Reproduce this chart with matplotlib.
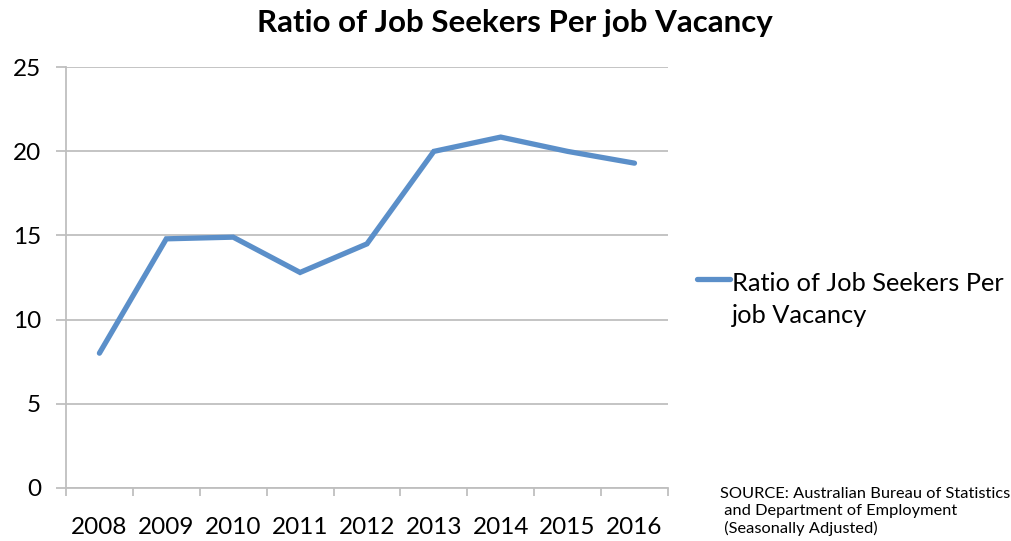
import matplotlib.pyplot as plt
from matplotlib.lines import Line2D

plt.rcParams['font.family'] = ['Lato', 'DejaVu Sans']

years = ['2008', '2009', '2010', '2011', '2012', '2013', '2014', '2015', '2016']
ratio = [8.0, 14.8, 14.9, 12.8, 14.5, 20.0, 20.85, 20.0, 19.3]
series_name = 'Ratio of Job Seekers Per\njob Vacancy'
source = 'SOURCE: Australian Bureau of Statistics\n and Department of Employment\n (Seasonally Adjusted)'
line_color = '#5B8FC9'

fig = plt.figure(figsize=(10.12, 5.41), dpi=100)
ax = fig.add_axes([0.0652, 0.0985, 0.5948, 0.7771])

x = list(range(len(years)))
ax.plot(x, ratio, color=line_color, linewidth=3.8, solid_capstyle='round',
        solid_joinstyle='miter')

ax.set_xlim(-0.5, len(years) - 0.5)
ax.set_ylim(0, 25)
ax.set_yticks([0, 5, 10, 15, 20, 25])
ax.set_xticks(x)
ax.set_xticklabels(years)
ax.set_xticks([i - 0.5 for i in range(len(years) + 1)], minor=True)

# gridlines
ax.grid(axis='y', color='#BFBFBF', linewidth=1.3)
ax.set_axisbelow(True)

for s in ['top', 'right']:
    ax.spines[s].set_visible(False)
for s in ['left', 'bottom']:
    ax.spines[s].set_color('#BFBFBF')
    ax.spines[s].set_linewidth(1.3)

ax.tick_params(axis='y', length=7, width=1.3, color='#BFBFBF', pad=11,
               labelsize=17.5, labelcolor='black')
ax.tick_params(axis='x', which='major', length=0, pad=21, labelsize=17.5)
ax.tick_params(axis='x', which='minor', length=6, width=1.3, color='#BFBFBF')

fig.text(0.509, 0.958, 'Ratio of Job Seekers Per job Vacancy', ha='center',
         va='center', fontsize=22.5, fontweight='bold')

# legend on the right (handle lines up with the first text line, like Excel)
fig.add_artist(Line2D([0.689, 0.721], [0.484, 0.484], transform=fig.transFigure,
                      color=line_color, linewidth=3.8, solid_capstyle='round'))
fig.text(0.723, 0.498, series_name, ha='left', va='top', fontsize=18.3,
         linespacing=1.5)

fig.text(0.711, 0.1, source, ha='left', va='top', fontsize=11.8, linespacing=1.25)

fig.savefig('out.png', dpi=100)
